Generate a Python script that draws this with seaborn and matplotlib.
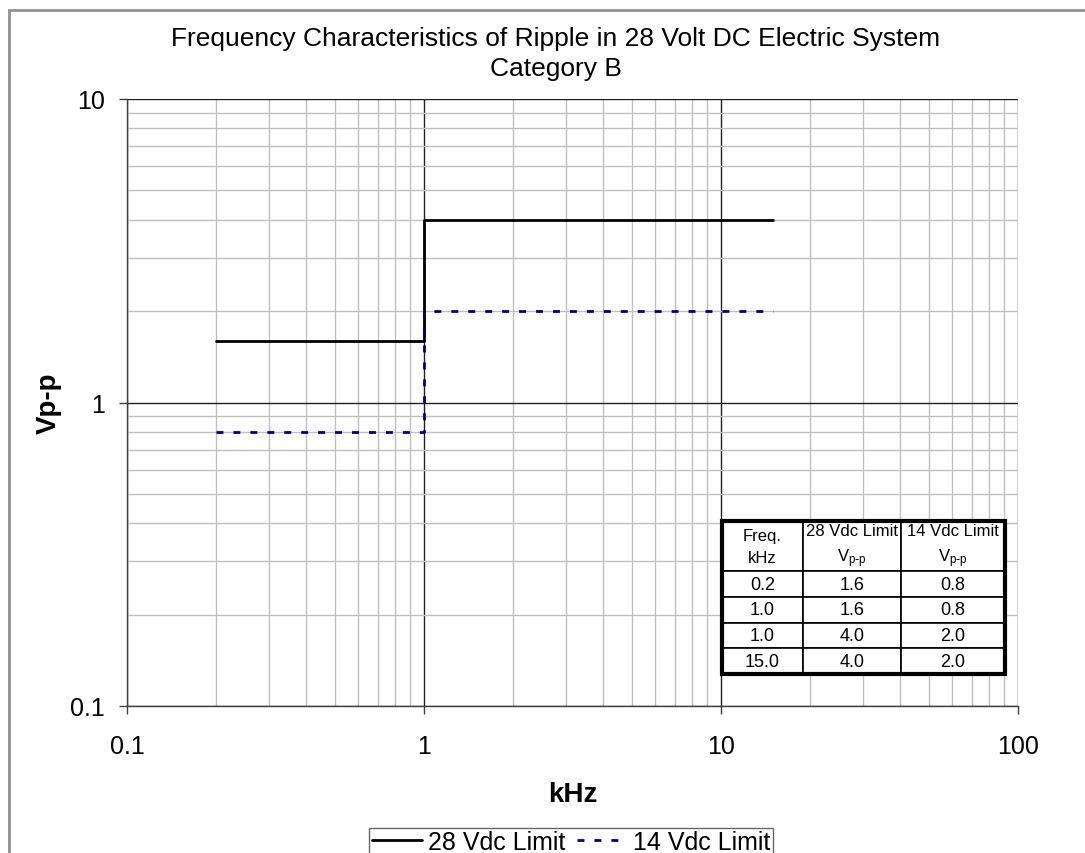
import pandas as pd
import matplotlib
matplotlib.use('Agg')
import matplotlib.pyplot as plt
import seaborn as sns
from matplotlib.ticker import LogLocator, NullFormatter, FixedLocator, FixedFormatter
from matplotlib.patches import Rectangle

# data
freq_khz = [0.2, 1.0, 1.0, 15.0]
limit_28 = [1.6, 1.6, 4.0, 4.0]
limit_14 = [0.8, 0.8, 2.0, 2.0]
series_names = ['28 Vdc Limit', '14 Vdc Limit']
table_header = ['Freq.\nkHz',
                '28 Vdc Limit\n$\\mathregular{V_{p\\text{-}p}}$',
                '14 Vdc Limit\n$\\mathregular{V_{p\\text{-}p}}$']
table_rows = [['0.2', '1.6', '0.8'],
              ['1.0', '1.6', '0.8'],
              ['1.0', '4.0', '2.0'],
              ['15.0', '4.0', '2.0']]

df = pd.DataFrame({
    'kHz': freq_khz + freq_khz,
    'Vpp': limit_28 + limit_14,
    'series': [series_names[0]] * len(freq_khz) + [series_names[1]] * len(freq_khz),
})

sns.set_style('white')
plt.rcParams['font.family'] = ['Liberation Sans', 'DejaVu Sans']
plt.rcParams['text.color'] = 'black'
plt.rcParams['axes.labelcolor'] = 'black'
plt.rcParams['xtick.color'] = 'black'
plt.rcParams['ytick.color'] = 'black'

fig = plt.figure(figsize=(10.85, 8.54), dpi=100)
ax = fig.add_axes([127 / 1085, 1 - 707 / 854, (1018 - 127) / 1085, (707 - 100) / 854])

sns.lineplot(data=df, x='kHz', y='Vpp', hue='series', style='series',
             palette={series_names[0]: 'black', series_names[1]: '#000080'},
             dashes={series_names[0]: '', series_names[1]: (2.5, 3.6)},
             estimator=None, sort=False, units='series', linewidth=2, ax=ax, zorder=5)

ax.set_xscale('log')
ax.set_yscale('log')
ax.set_xlim(0.1, 100)
ax.set_ylim(0.1, 10)

ax.xaxis.set_major_locator(FixedLocator([0.1, 1, 10, 100]))
ax.xaxis.set_major_formatter(FixedFormatter(['0.1', '1', '10', '100']))
ax.yaxis.set_major_locator(FixedLocator([0.1, 1, 10]))
ax.yaxis.set_major_formatter(FixedFormatter(['0.1', '1', '10']))
ax.xaxis.set_minor_locator(LogLocator(base=10, subs=range(2, 10)))
ax.yaxis.set_minor_locator(LogLocator(base=10, subs=range(2, 10)))
ax.xaxis.set_minor_formatter(NullFormatter())
ax.yaxis.set_minor_formatter(NullFormatter())

ax.grid(True, which='minor', color='#c0c0c0', linewidth=1)
ax.grid(True, which='major', color='#202020', linewidth=1)
ax.set_axisbelow(True)
ax.tick_params(which='major', direction='out', length=6, width=1, color='#404040',
               labelsize=18, left=True, bottom=True)
ax.tick_params(axis='x', which='major', pad=14)
ax.tick_params(axis='y', which='major', pad=10)
ax.tick_params(which='minor', length=0)
for side in ['top', 'right']:
    ax.spines[side].set_visible(False)
for side in ['left', 'bottom']:
    ax.spines[side].set_color('#404040')
    ax.spines[side].set_linewidth(1)

ax.set_xlabel('kHz', fontsize=20, fontweight='bold', labelpad=17)
ax.set_ylabel('Vp-p', fontsize=20, fontweight='bold', labelpad=6)
ax.set_title('Frequency Characteristics of Ripple in 28 Volt DC Electric System\nCategory B',
             fontsize=19, pad=17, linespacing=1.35, x=(556 - 127) / 891)

# table in the lower right corner
x0, x1 = (722 - 127) / 891, (1005 - 127) / 891
y1, y0 = (707 - 522) / 607, (707 - 675) / 607
tbl = ax.table(cellText=table_rows, colLabels=table_header, cellLoc='center',
               bbox=[x0, y0, x1 - x0, y1 - y0], zorder=10)
tbl.auto_set_font_size(False)
widths = [81, 98, 104]
for (r, c), cell in tbl.get_celld().items():
    cell.set_width(widths[c])
    cell.set_height(50 if r == 0 else 25.5)
    cell.set_linewidth(1.2)
    cell.set_facecolor('white')
    cell.get_text().set_fontsize(13 if r > 0 else 12)
    if r == 0:
        cell.get_text().set_linespacing(1.6)
ax.add_patch(Rectangle((x0, y0), x1 - x0, y1 - y0, transform=ax.transAxes,
                       fill=False, edgecolor='black', linewidth=3, zorder=11))

leg = ax.legend(loc='upper center', bbox_to_anchor=(571 / 1085, 1 - 816 / 854),
                bbox_transform=fig.transFigure, ncol=2, fontsize=18, frameon=True,
                fancybox=False, edgecolor='#404040', handlelength=2.0,
                handletextpad=0.25, columnspacing=0.45, borderpad=0.1)
leg.get_frame().set_linewidth(1)

# outer chart frame
fig.patches.append(Rectangle((9 / 1085, -0.1), 1.2, 1.1 - 11 / 854, transform=fig.transFigure,
                             fill=False, edgecolor='#909090', linewidth=2))

fig.savefig('out.png', dpi=100)
